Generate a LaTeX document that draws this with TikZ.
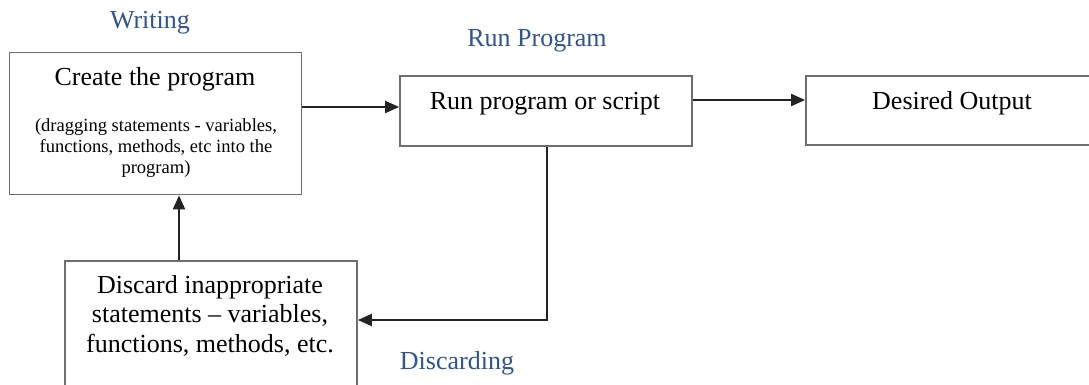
\documentclass[tikz,border=0pt]{standalone}
\usepackage{fontspec}
\setmainfont{Liberation Serif}
\usetikzlibrary{arrows.meta}
\definecolor{labelblue}{RGB}{47,85,150}
\definecolor{boxgray}{RGB}{110,110,110}
\definecolor{arrowdark}{RGB}{35,35,35}
\begin{document}
\begin{tikzpicture}[x=0.75pt,y=-0.75pt,
  box/.style={draw=boxgray,line width=1.3pt,rectangle,minimum width=219pt,inner sep=0pt},
  maintext/.style={font=\fontsize{19.5pt}{22.1pt}\selectfont,inner sep=0pt,align=center,anchor=base},
  smalltext/.style={font=\fontsize{13.9pt}{15.4pt}\selectfont,inner sep=0pt,align=center,anchor=base},
  steplabel/.style={font=\fontsize{19.5pt}{22.1pt}\selectfont,text=labelblue,inner sep=0pt,anchor=base},
  conn/.style={draw=arrowdark,line width=1.5pt,-{Triangle[length=10.5pt,width=9pt]}}]
\useasboundingbox (0,0) rectangle (1089,385);
\clip (0,0) rectangle (1089,385);
\fill[white] (0,0) rectangle (1089,385);
% boxes
\node[box,minimum height=106.5pt] (create) at (155.5,123.5) {};
\node[box,minimum height=52.5pt] (run) at (546,111) {};
\node[box,minimum height=52pt] (output) at (952,110.5) {};
\node[box,minimum height=105pt] (discard) at (211,331) {};
% texts (multi-line nodes are anchored at the baseline of their last line)
\node[maintext] (createT) at (155,85) {Create the program};
\node[smalltext] (createS) at (156,173) {(dragging statements - variables,\\functions, methods, etc into the\\program)};
\node[maintext] (runT) at (545,109) {Run program or script};
\node[maintext] (outputT) at (952,109) {Desired Output};
\node[maintext] (discardT) at (210,352) {Discard inappropriate\\statements -- variables,\\functions, methods, etc.};
% labels
\node[steplabel] (writing) at (150,29) {Writing};
\node[steplabel] (runlabel) at (537,47) {Run Program};
\node[steplabel] (discarding) at (457,369) {Discarding};
% connectors
\draw[conn] (create.east |- 0,107) -- (run.west |- 0,107);
\draw[conn] (run.east |- 0,100) -- (output.west |- 0,100);
\draw[conn] (discard.north -| 179,0) -- (create.south -| 179,0);
\coordinate (corner) at (547,320);
\draw[conn] (run.south -| corner) -- (corner) -- (discard.east |- corner);
\end{tikzpicture}
\end{document}
